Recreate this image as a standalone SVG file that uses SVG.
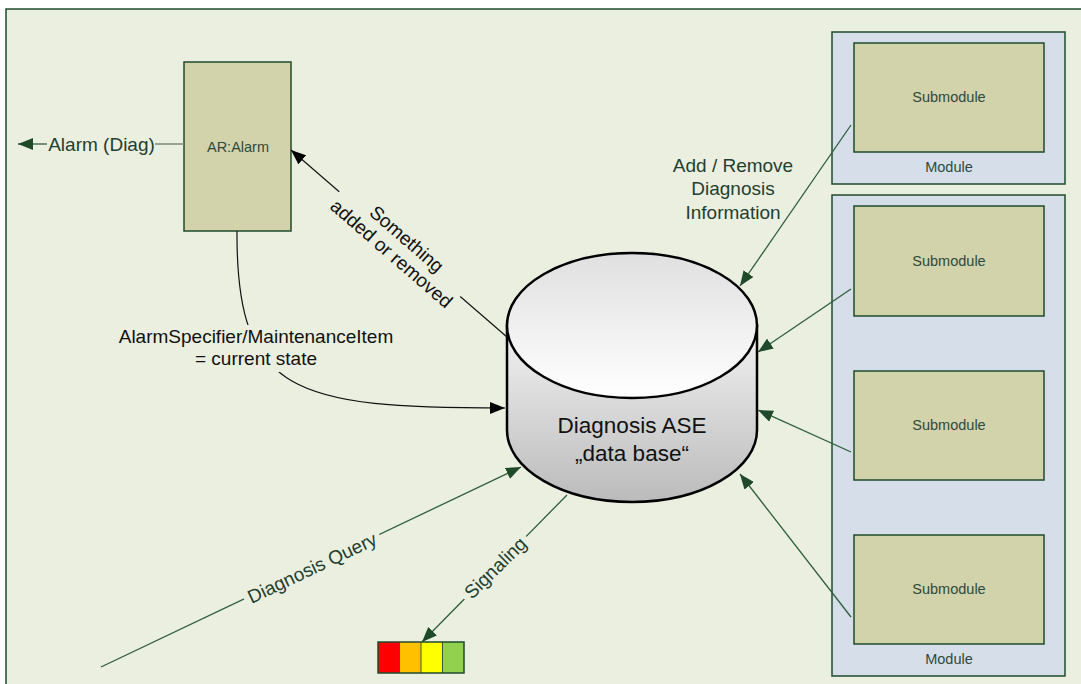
<svg xmlns="http://www.w3.org/2000/svg" width="1081" height="684" viewBox="0 0 1081 684">
  <style>
    text { font-family: "Liberation Sans", Arial, sans-serif; }
    .panel { fill: #EBEFDF; stroke: #1F4B2C; stroke-width: 1.5; }
    .box { fill: #D2D3AB; stroke: #1F4B2C; stroke-width: 1.5; }
    .module { fill: #D5DEE9; stroke: #1F4B2C; stroke-width: 1.5; }
    .small { font-size: 14.5px; fill: #2F4A3A; text-anchor: middle; }
    .lbl { font-size: 19px; fill: #1F4030; text-anchor: middle; }
    .lblk { font-size: 19px; fill: #111111; text-anchor: middle; }
    .gline { stroke: #2E5E3C; stroke-width: 1.3; fill: none; }
    .kline { stroke: #111111; stroke-width: 1.2; fill: none; }
    .gap { fill: #EBEFDF; stroke: none; }
  </style>
  <defs>
    <marker id="ag" markerUnits="userSpaceOnUse" markerWidth="16" markerHeight="12" refX="15" refY="6" orient="auto">
      <path d="M0,0 L15,6 L0,12 z" fill="#1E4A2A"/>
    </marker>
    <marker id="ak" markerUnits="userSpaceOnUse" markerWidth="16" markerHeight="12" refX="15" refY="6" orient="auto">
      <path d="M0,0 L15,6 L0,12 z" fill="#000000"/>
    </marker>
    <linearGradient id="body" x1="0" y1="325" x2="0" y2="502" gradientUnits="userSpaceOnUse">
      <stop offset="0" stop-color="#F2F2F2"/>
      <stop offset="1" stop-color="#BBBBBB"/>
    </linearGradient>
    <linearGradient id="lid" x1="0" y1="253" x2="0" y2="398" gradientUnits="userSpaceOnUse">
      <stop offset="0" stop-color="#E0E0E0"/>
      <stop offset="1" stop-color="#FFFFFF"/>
    </linearGradient>
  </defs>

  <!-- background panel -->
  <rect x="0" y="0" width="1081" height="684" fill="#FFFFFF"/>
  <rect class="panel" x="6" y="9" width="1100" height="700"/>

  <!-- alarm application relation -->
  <g id="ar-alarm">
    <rect class="box" x="184" y="62" width="107" height="169"/>
    <text class="small" x="238" y="152">AR:Alarm</text>
  </g>

  <!-- diagnosis data base -->
  <g id="diagnosis-ase">
    <path d="M507,325.5 L507,430 A125,72 0 0 0 757,430 L757,325.5 Z" fill="url(#body)" stroke="#000" stroke-width="2.5"/>
    <ellipse cx="632" cy="325.5" rx="125" ry="72.5" fill="url(#lid)" stroke="#000" stroke-width="2.5"/>
    <text x="632" y="433" font-size="22.5" fill="#111" text-anchor="middle">Diagnosis ASE</text>
    <text x="632" y="461" font-size="22.5" fill="#111" text-anchor="middle">„data base“</text>
  </g>

  <!-- module with one submodule -->
  <g id="module-1">
    <rect class="module" x="832" y="32" width="233" height="152"/>
    <rect class="box" x="854" y="43" width="190" height="109"/>
    <text class="small" x="949" y="102">Submodule</text>
    <text class="small" x="949" y="172">Module</text>
  </g>

  <!-- module with three submodules -->
  <g id="module-2">
    <rect class="module" x="832" y="195" width="233" height="481"/>
    <rect class="box" x="854" y="206" width="190" height="110"/>
    <text class="small" x="949" y="266">Submodule</text>
    <rect class="box" x="854" y="371" width="190" height="109"/>
    <text class="small" x="949" y="430">Submodule</text>
    <rect class="box" x="854" y="535" width="190" height="109"/>
    <text class="small" x="949" y="594">Submodule</text>
    <text class="small" x="949" y="664">Module</text>
  </g>

  <!-- status lamp -->
  <g id="signal-lamp">
    <rect x="378" y="642" width="21.5" height="31" fill="#FF0000"/>
    <rect x="399.5" y="642" width="21.5" height="31" fill="#FFC000"/>
    <rect x="421" y="642" width="21.5" height="31" fill="#FFFF00"/>
    <rect x="442.5" y="642" width="21.5" height="31" fill="#92D050"/>
    <path d="M399.5,642 V673 M421,642 V673 M442.5,642 V673" stroke="#3A5A40" stroke-width="1"/>
    <rect x="378" y="642" width="86" height="31" fill="none" stroke="#1F4B2C" stroke-width="1.5"/>
  </g>

  <g id="connectors">
    <!-- alarm output -->
    <line x1="184" y1="144" x2="155" y2="144" stroke="#7A8A7A" stroke-width="1.5"/>
    <line class="gline" x1="47" y1="144" x2="18" y2="144" stroke-width="1.6" marker-end="url(#ag)"/>
    <text class="lbl" x="101.5" y="151" font-size="20.5">Alarm (Diag)</text>

    <!-- change notification to AR:Alarm -->
    <line class="kline" x1="507" y1="337" x2="291" y2="150" marker-end="url(#ak)"/>
    <rect class="gap" x="-80" y="-24" width="160" height="46" transform="translate(399,245) rotate(40.9)"/>
    <g transform="translate(399,245) rotate(40.9)">
      <text class="lblk" x="2" y="-3">Something</text>
      <text class="lblk" x="0" y="18">added or removed</text>
    </g>

    <!-- current state to data base -->
    <path class="kline" d="M237,231 C236,395 295,408 505,408" marker-end="url(#ak)"/>
    <rect class="gap" x="114" y="325" width="284" height="47"/>
    <text class="lblk" x="256" y="343">AlarmSpecifier/MaintenanceItem</text>
    <text class="lblk" x="256" y="365">= current state</text>

    <!-- submodule entries -->
    <line class="gline" x1="851" y1="125" x2="740" y2="286" marker-end="url(#ag)"/>
    <line class="gline" x1="851" y1="289" x2="758" y2="352" marker-end="url(#ag)"/>
    <line class="gline" x1="851" y1="452" x2="758" y2="410" marker-end="url(#ag)"/>
    <line class="gline" x1="851" y1="617" x2="740" y2="474" marker-end="url(#ag)"/>
    <text class="lbl" x="733" y="172">Add / Remove</text>
    <text class="lbl" x="733" y="195">Diagnosis</text>
    <text class="lbl" x="733" y="219">Information</text>

    <!-- query -->
    <line class="gline" x1="101" y1="667" x2="521" y2="467" marker-end="url(#ag)"/>
    <rect class="gap" x="-75" y="-11" width="150" height="22" transform="translate(312,567.5) rotate(-25.4)"/>
    <text class="lbl" x="0" y="7" transform="translate(312,567.5) rotate(-25.4)">Diagnosis Query</text>

    <!-- signaling -->
    <line class="gline" x1="567" y1="495" x2="422" y2="642" marker-end="url(#ag)"/>
    <rect class="gap" x="-44" y="-11" width="88" height="22" transform="translate(495,567.5) rotate(-44.5)"/>
    <text class="lbl" x="0" y="7" transform="translate(495,567.5) rotate(-44.5)">Signaling</text>
  </g>
</svg>
